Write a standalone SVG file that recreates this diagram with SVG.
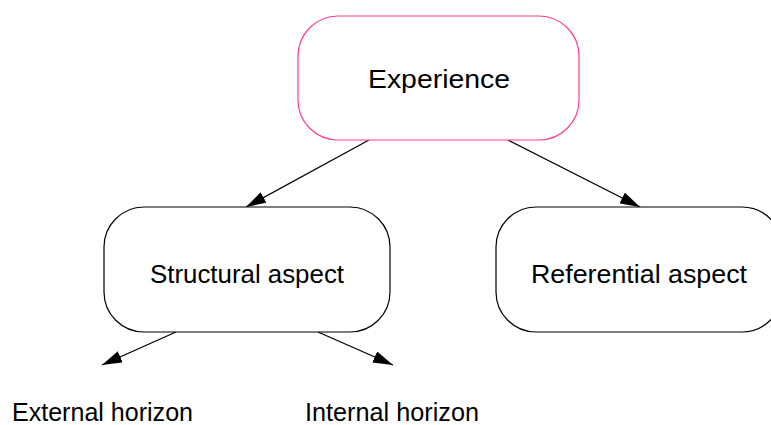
<svg xmlns="http://www.w3.org/2000/svg" width="771" height="425" viewBox="0 0 771 425">
<style>
.box{fill:#fff;stroke:#000;stroke-width:1.2}
.pink{stroke:#ff3d96}
.lbl{font-family:"Liberation Sans",Arial,sans-serif;font-size:25px;fill:#000}
.edge{stroke:#000;stroke-width:1.3;fill:none;marker-end:url(#ah)}
</style>
<defs>
<marker id="ah" markerUnits="userSpaceOnUse" markerWidth="22" markerHeight="12" refX="20" refY="6" orient="auto">
<path d="M0,0 L20,6 L0,12 Z" fill="#000"/>
</marker>
</defs>
<rect width="771" height="425" fill="#fff"/>
<g id="connectors">
<path class="edge" d="M369,140 L246,207"/>
<path class="edge" d="M508,140 L640,207"/>
<path class="edge" d="M176,332 L102,365"/>
<path class="edge" d="M318,332 L393,365"/>
</g>
<g id="experience">
<rect class="box pink" x="298" y="16" width="281" height="124" rx="40" ry="40"/>
<text class="lbl" x="368" y="88" textLength="142" lengthAdjust="spacingAndGlyphs">Experience</text>
</g>
<g id="structural">
<rect class="box" x="104" y="207" width="286" height="125" rx="40" ry="40"/>
<text class="lbl" x="150" y="283" textLength="194" lengthAdjust="spacingAndGlyphs">Structural aspect</text>
</g>
<g id="referential">
<rect class="box" x="496" y="207" width="286" height="125" rx="40" ry="40"/>
<text class="lbl" x="531" y="283" textLength="216" lengthAdjust="spacingAndGlyphs">Referential aspect</text>
</g>
<g id="external">
<text class="lbl" x="12" y="421" textLength="181" lengthAdjust="spacingAndGlyphs">External horizon</text>
</g>
<g id="internal">
<text class="lbl" x="305" y="421" textLength="174" lengthAdjust="spacingAndGlyphs">Internal horizon</text>
</g>
</svg>
